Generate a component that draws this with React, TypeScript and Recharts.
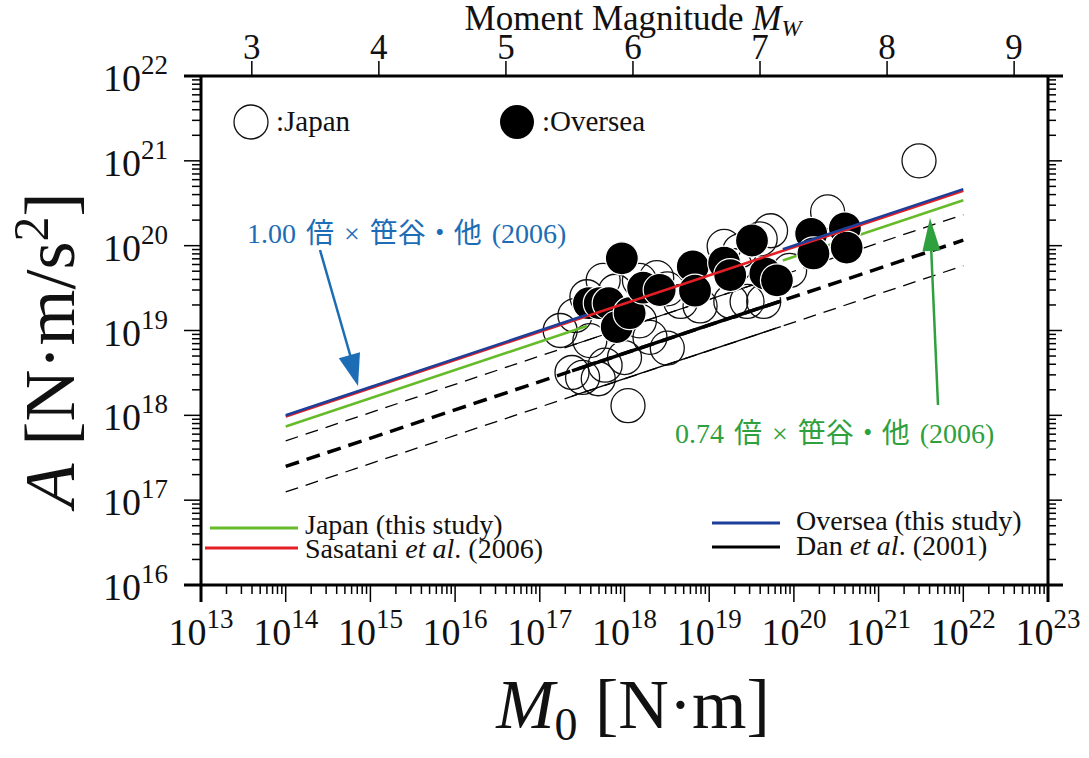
import React from 'react';
import { ScatterChart, Scatter, XAxis, YAxis } from 'recharts';

const W = 1089;
const H = 758;
const PLOT_LEFT = 201;
const PLOT_RIGHT = 1048;
const PLOT_TOP = 76;
const PLOT_BOTTOM = 585;

const SERIF = "'Liberation Serif', 'Times New Roman', serif";
const MIXED = "'Liberation Serif', 'Noto Sans CJK JP', sans-serif";

// tick positions
const xExponents = [13, 14, 15, 16, 17, 18, 19, 20, 21, 22, 23];
const yExponents = [16, 17, 18, 19, 20, 21, 22];
const minorSteps = [1, 2, 3, 4, 5, 6, 7, 8, 9];
const mwLabels = [3, 4, 5, 6, 7, 8, 9];

const logTicks = (exps: number[]) => {
  const out: number[] = [];
  exps.forEach((e, i) => {
    if (i === exps.length - 1) { out.push(Math.pow(10, e)); return; }
    minorSteps.forEach(m => out.push(m * Math.pow(10, e)));
  });
  return out;
};
const xTicks = logTicks(xExponents);
const yTicks = logTicks(yExponents);

// Mw = (log10 M0 - 9.1) / 1.5  ->  M0 = 10^(1.5 Mw + 9.1)
const mwToM0 = (mw: number) => Math.pow(10, 1.5 * mw + 9.1);
const m0ToMw = (m0: number) => Math.round((Math.log10(m0) - 9.1) / 1.5);
const mwTicks = mwLabels.map(mwToM0);

// data: M0 [N·m], A [N·m/s^2]
const japanPoints = [
  { m0: 3.0e21, a: 1.0e21 }, { m0: 2.5e20, a: 2.5e20 }, { m0: 5.3e19, a: 1.5e20 },
  { m0: 4.0e19, a: 1.2e20 }, { m0: 1.5e19, a: 9.8e19 }, { m0: 2.3e19, a: 8.7e19 },
  { m0: 2.0e19, a: 5.8e19 }, { m0: 8.9e19, a: 5.1e19 }, { m0: 1.8e19, a: 2.2e19 },
  { m0: 4.4e19, a: 2.2e19 }, { m0: 2.8e19, a: 2.2e19 }, { m0: 1.5e18, a: 3.9e19 },
  { m0: 2.4e18, a: 4.2e19 }, { m0: 3.2e18, a: 3.1e19 }, { m0: 4.6e18, a: 2.2e19 },
  { m0: 7.8e18, a: 1.95e19 }, { m0: 3.6e17, a: 2.5e19 }, { m0: 5.6e17, a: 3.9e19 },
  { m0: 7.8e17, a: 2.9e19 }, { m0: 2.6e17, a: 1.5e19 }, { m0: 1.74e17, a: 1.0e19 },
  { m0: 1.5e18, a: 1.3e19 }, { m0: 3.9e17, a: 7.6e18 }, { m0: 2.0e18, a: 8.3e18 },
  { m0: 3.2e18, a: 6.2e18 }, { m0: 1.0e18, a: 4.8e18 }, { m0: 5.9e17, a: 3.9e18 },
  { m0: 2.4e17, a: 3.2e18 }, { m0: 3.2e17, a: 2.8e18 }, { m0: 4.9e17, a: 2.7e18 },
  { m0: 1.1e18, a: 1.3e18 },
];

const overseaPoints = [
  { m0: 3.8e17, a: 2.1e19 }, { m0: 5.1e17, a: 2.1e19 }, { m0: 6.5e17, a: 2.1e19 },
  { m0: 8.1e17, a: 1.1e19 }, { m0: 1.15e18, a: 1.6e19 }, { m0: 9.3e17, a: 7.1e19 },
  { m0: 1.66e18, a: 3.2e19 }, { m0: 2.6e18, a: 3.0e19 }, { m0: 6.4e18, a: 5.7e19 },
  { m0: 6.8e18, a: 2.95e19 }, { m0: 1.5e19, a: 6.3e19 }, { m0: 1.77e19, a: 4.5e19 },
  { m0: 3.2e19, a: 1.15e20 }, { m0: 4.6e19, a: 4.7e19 }, { m0: 6.3e19, a: 3.9e19 },
  { m0: 1.6e20, a: 1.38e20 }, { m0: 1.7e20, a: 8.1e19 }, { m0: 4.0e20, a: 1.6e20 },
  { m0: 4.2e20, a: 9.5e19 },
];

// regression / reference lines
const sasataniLine = [{ m0: 1e14, a: 0.97e18 }, { m0: 1e22, a: 4.45e20 }];
const overseaLineLow = [{ m0: 1e14, a: 1.0e18 }, { m0: 3.6e17, a: 1.53e19 }];
const overseaLineHigh = [{ m0: 7.4e19, a: 9.05e19 }, { m0: 1e22, a: 4.64e20 }];
const japanLineLow = [{ m0: 1e14, a: 7.4e17 }, { m0: 3.6e17, a: 1.13e19 }];
const japanLineHigh = [{ m0: 7.4e19, a: 6.7e19 }, { m0: 1e22, a: 3.43e20 }];
const danLine = [{ m0: 1e14, a: 2.5e17 }, { m0: 1e22, a: 1.16e20 }];
const danUpper = [{ m0: 1e14, a: 5.0e17 }, { m0: 1e22, a: 2.32e20 }];
const danLower = [{ m0: 1e14, a: 1.25e17 }, { m0: 1e22, a: 5.8e19 }];
const danMid = [{ m0: 2.4e17, a: 3.35e18 }, { m0: 7e19, a: 2.22e19 }];
const danUpperMid = [{ m0: 2.4e17, a: 6.7e18 }, { m0: 7e19, a: 4.44e19 }];
const danLowerMid = [{ m0: 2.4e17, a: 1.68e18 }, { m0: 7e19, a: 1.11e19 }];

const GREEN = '#66bb2a';
const RED = '#e31e24';
const BLUE = '#1d3f9a';
const NOTE_BLUE = '#1c6db5';
const NOTE_GREEN = '#2ea03e';

const isMajor = (v: number) => {
  const l = Math.log10(v);
  return Math.abs(l - Math.round(l)) < 1e-6;
};

const BottomTick = (props: any) => {
  const { x, y, payload } = props;
  const v = payload.value;
  const major = isMajor(v);
  return (
    <g>
      <line x1={x} x2={x} y1={y} y2={y + (major ? 17 : 9)} stroke="#000" strokeWidth={1.5} />
      {major && (
        <text x={x} y={y + 60} textAnchor="middle" fontFamily={SERIF} fontSize={38} fill="#111">
          10<tspan fontSize={27} dy={-17}>{Math.round(Math.log10(v))}</tspan>
        </text>
      )}
    </g>
  );
};

const LeftTick = (props: any) => {
  const { x, y, payload } = props;
  const v = payload.value;
  const major = isMajor(v);
  return (
    <g>
      <line x1={x} x2={x - (major ? 17 : 9)} y1={y} y2={y} stroke="#000" strokeWidth={1.5} />
      {major && (
        <text x={x - 33} y={y + 15} textAnchor="end" fontFamily={SERIF} fontSize={38} fill="#111">
          10<tspan fontSize={27} dy={-17}>{Math.round(Math.log10(v))}</tspan>
        </text>
      )}
    </g>
  );
};

const RightTick = (props: any) => {
  const { x, y, payload } = props;
  const major = isMajor(payload.value);
  return <line x1={x} x2={x + (major ? 14 : 8)} y1={y} y2={y} stroke="#000" strokeWidth={1.5} />;
};

const TopTick = (props: any) => {
  const { x, y, payload } = props;
  return (
    <g>
      <line x1={x} x2={x} y1={y} y2={y - 15} stroke="#000" strokeWidth={1.5} />
      <text x={x} y={y - 17} textAnchor="middle" fontFamily={SERIF} fontSize={35} fill="#111">
        {m0ToMw(payload.value)}
      </text>
    </g>
  );
};

const OpenCircle = (props: any) => (
  <circle cx={props.cx} cy={props.cy} r={17} fill="none" stroke="#111" strokeWidth={1.3} />
);
const FilledCircle = (props: any) => (
  <circle cx={props.cx} cy={props.cy} r={16.5} fill="#000" stroke="#fff" strokeWidth={1.2} />
);
const NoDot = () => <g />;

const lineSeries = (key: string, data: any[], stroke: string, width: number, dash?: string) => (
  <Scatter
    key={key}
    data={data}
    shape={NoDot}
    line={{ stroke, strokeWidth: width, strokeDasharray: dash }}
    isAnimationActive={false}
    legendType="none"
  />
);

const arrowHead = (x1: number, y1: number, x2: number, y2: number, len: number, half: number) => {
  const dx = x2 - x1;
  const dy = y2 - y1;
  const d = Math.hypot(dx, dy);
  const ux = dx / d;
  const uy = dy / d;
  const bx = x2 - ux * len;
  const by = y2 - uy * len;
  return `${x2},${y2} ${bx - uy * half},${by + ux * half} ${bx + uy * half},${by - ux * half}`;
};

// axes are 1px thick (a 0 size axis is not drawn), so the margins are 1px smaller
const AX = 1;

export default function App() {
  return (
    <div style={{ position: 'absolute', left: 0, top: 0, width: W, height: H, background: '#fff' }}>
      <ScatterChart
        width={W}
        height={H}
        margin={{
          top: PLOT_TOP - AX,
          right: W - PLOT_RIGHT - AX,
          bottom: H - PLOT_BOTTOM - AX,
          left: PLOT_LEFT - AX,
        }}
      >
        <XAxis
          dataKey="m0" type="number" scale="log" domain={[1e13, 1e23]} allowDataOverflow
          ticks={xTicks} interval={0} height={AX} tickSize={0} tickMargin={0}
          tickLine={false} axisLine={false} tick={(p: any) => <BottomTick {...p} />}
        />
        <XAxis
          xAxisId="mw" orientation="top" dataKey="m0" type="number" scale="log"
          domain={[1e13, 1e23]} allowDataOverflow ticks={mwTicks} interval={0} height={AX}
          tickSize={0} tickMargin={0} tickLine={false} axisLine={false}
          tick={(p: any) => <TopTick {...p} />}
        />
        <YAxis
          dataKey="a" type="number" scale="log" domain={[1e16, 1e22]} allowDataOverflow
          ticks={yTicks} interval={0} width={AX} tickSize={0} tickMargin={0}
          tickLine={false} axisLine={false} tick={(p: any) => <LeftTick {...p} />}
        />
        <YAxis
          yAxisId="right" orientation="right" dataKey="a" type="number" scale="log"
          domain={[1e16, 1e22]} allowDataOverflow ticks={yTicks} interval={0} width={AX}
          tickSize={0} tickMargin={0} tickLine={false} axisLine={false}
          tick={(p: any) => <RightTick {...p} />}
        />
        <Scatter data={japanPoints} shape={OpenCircle} isAnimationActive={false} legendType="none" />
        {lineSeries('danUpper', danUpper, '#000', 1.3, '13 8')}
        {lineSeries('danLower', danLower, '#000', 1.3, '13 8')}
        {lineSeries('dan', danLine, '#000', 3.5, '14 8')}
        {lineSeries('danUpperMid', danUpperMid, '#000', 1.3)}
        {lineSeries('danLowerMid', danLowerMid, '#000', 1.3)}
        {lineSeries('danMid', danMid, '#000', 3.5)}
        {lineSeries('japanLow', japanLineLow, GREEN, 2.6)}
        {lineSeries('japanHigh', japanLineHigh, GREEN, 2.6)}
        <Scatter data={overseaPoints} shape={FilledCircle} isAnimationActive={false} legendType="none" />
        {lineSeries('sasatani', sasataniLine, RED, 2.6)}
        {lineSeries('overseaLow', overseaLineLow, BLUE, 2.6)}
        {lineSeries('overseaHigh', overseaLineHigh, BLUE, 2.6)}
      </ScatterChart>

      <svg
        width={W}
        height={H}
        style={{ position: 'absolute', left: 0, top: 0, pointerEvents: 'none' }}
      >
        {/* frame */}
        <g stroke="#000" strokeWidth={3}>
          <line x1={PLOT_LEFT - 17} x2={PLOT_RIGHT + 15} y1={PLOT_TOP} y2={PLOT_TOP} />
          <line x1={PLOT_LEFT - 17} x2={PLOT_RIGHT + 15} y1={PLOT_BOTTOM} y2={PLOT_BOTTOM} />
          <line x1={PLOT_LEFT} x2={PLOT_LEFT} y1={PLOT_TOP} y2={PLOT_BOTTOM + 17} />
          <line x1={PLOT_RIGHT} x2={PLOT_RIGHT} y1={PLOT_TOP} y2={PLOT_BOTTOM + 17} />
        </g>

        {/* axis titles */}
        <text x={633} y={30} textAnchor="middle" fontFamily={SERIF} fontSize={35} fill="#111">
          Moment Magnitude <tspan fontStyle="italic">M</tspan>
          <tspan fontStyle="italic" fontSize={24} dy={6}>W</tspan>
        </text>
        <text x={633} y={728} textAnchor="middle" fontFamily={SERIF} fontSize={70} fill="#111">
          <tspan fontStyle="italic">M</tspan>
          <tspan fontSize={46} dy={12}>0</tspan>
          <tspan dy={-12}> [N·m]</tspan>
        </text>
        <text
          x={0} y={0} transform="translate(74,350) rotate(-90)" textAnchor="middle"
          fontFamily={SERIF} fontSize={72} fill="#111"
        >
          <tspan fontStyle="italic">A</tspan> [N·m/s<tspan fontSize={50} dy={-26}>2</tspan>
          <tspan dy={26}>]</tspan>
        </text>

        {/* symbol legend */}
        <circle cx={251} cy={122} r={17} fill="none" stroke="#111" strokeWidth={1.3} />
        <text x={276} y={131} fontFamily={SERIF} fontSize={29} fill="#111">:Japan</text>
        <circle cx={517} cy={122} r={17} fill="#000" />
        <text x={542} y={131} fontFamily={SERIF} fontSize={29} fill="#111">:Oversea</text>

        {/* line legend */}
        <line x1={210} x2={298} y1={528} y2={528} stroke={GREEN} strokeWidth={3} />
        <text x={305} y={534} fontFamily={SERIF} fontSize={28} fill="#111">Japan (this study)</text>
        <line x1={205} x2={298} y1={548} y2={548} stroke={RED} strokeWidth={3} />
        <text x={305} y={558} fontFamily={SERIF} fontSize={28} fill="#111">
          Sasatani <tspan fontStyle="italic">et al</tspan>. (2006)
        </text>
        <line x1={712} x2={780} y1={523} y2={523} stroke={BLUE} strokeWidth={3} />
        <text x={796} y={530} fontFamily={SERIF} fontSize={28} fill="#111">Oversea (this study)</text>
        <line x1={712} x2={780} y1={547} y2={547} stroke="#000" strokeWidth={3} />
        <text x={796} y={555} fontFamily={SERIF} fontSize={28} fill="#111">
          Dan <tspan fontStyle="italic">et al</tspan>. (2001)
        </text>

        {/* annotations */}
        <text x={247} y={243} fontFamily={MIXED} fontSize={28} wordSpacing={3} fill={NOTE_BLUE}>
          1.00 倍 × 笹谷・他 (2006)
        </text>
        <line x1={320} y1={250} x2={351} y2={358} stroke={NOTE_BLUE} strokeWidth={2.5} />
        <polygon points={arrowHead(320, 250, 358, 386, 32, 11)} fill={NOTE_BLUE} />

        <text x={675} y={443} fontFamily={MIXED} fontSize={28} wordSpacing={3} fill={NOTE_GREEN}>
          0.74 倍 × 笹谷・他 (2006)
        </text>
        <line x1={938} y1={405} x2={931} y2={245} stroke={NOTE_GREEN} strokeWidth={2.5} />
        <polygon points={arrowHead(938, 405, 930, 218, 33, 9)} fill={NOTE_GREEN} />
      </svg>
    </div>
  );
}
